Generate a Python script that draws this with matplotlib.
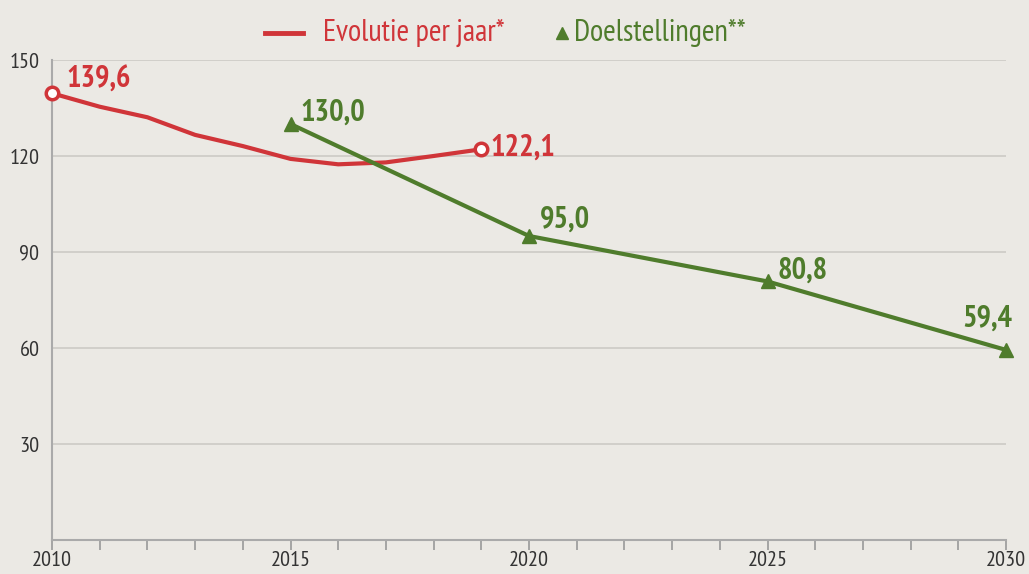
import numpy as np
import matplotlib as mpl
mpl.use("Agg")
import matplotlib.pyplot as plt
from matplotlib.lines import Line2D

plt.rcParams['font.family'] = ['PT Sans Narrow', 'DejaVu Sans']

#~~~~~~~~ Data ~~~~~~~~~~~~
years = [2010, 2011, 2012, 2013, 2014, 2015, 2016, 2017, 2018, 2019]
evolutie = [139.6, 135.4, 132.1, 126.6, 123.1, 119.1, 117.4, 118.0, 120.0, 122.1]
doel_years = [2015, 2020, 2025, 2030]
doel = [130.0, 95.0, 80.8, 59.4]
yticks = [30, 60, 90, 120, 150]
#~~~~~~~~~~~~~~~~~~~~~~~~~~~

red = '#d03539'
green = '#4f7c2c'
bg = '#ebe9e4'
W, H = 1029, 574

fig = plt.figure(figsize=(W/100, H/100), dpi=100, facecolor=bg)
ax = fig.add_axes([52/W, 34/H, (1006-52)/W, (540-60)/H])
ax.set_facecolor(bg)

ax.plot(years, evolutie, color=red, lw=3, zorder=3, clip_on=False)
ax.plot([years[0], years[-1]], [evolutie[0], evolutie[-1]], 'o', ms=9,
        mfc='white', mec=red, mew=2.5, zorder=4, clip_on=False)
ax.plot(doel_years, doel, color=green, lw=3, marker='^', ms=10,
        zorder=3, clip_on=False)

def fmt(v):
    return f"{v:.1f}".replace('.', ',')

def label(x, y, c, off, ha='left'):
    ax.annotate(fmt(y), (x, y), xytext=off, textcoords='offset pixels',
                color=c, fontsize=22, fontweight='bold', ha=ha, va='center')

label(years[0], evolutie[0], red, (14, 14))
label(years[-1], evolutie[-1], red, (9, 2))
offs = [(10, 11), (11, 16), (10, 11), (6, 31)]
has = ['left', 'left', 'left', 'right']
for x, y, o, h in zip(doel_years, doel, offs, has):
    label(x, y, green, o, h)

ax.set_xlim(2010, 2030)
ax.set_ylim(0, 150)
ax.set_yticks(yticks)
ax.set_xticks([2010, 2015, 2020, 2025, 2030])
ax.set_xticks(range(2010, 2031), minor=True)
ax.tick_params(axis='y', length=0, labelsize=16, colors='#333333', pad=9)
ax.tick_params(axis='x', which='both', length=7, width=1.2, color='#999999',
               labelsize=16, labelcolor='#333333', pad=1)
ax.grid(axis='y', color='#cccac5', lw=1.2)
for s in ['top', 'right']:
    ax.spines[s].set_visible(False)
for s in ['left', 'bottom']:
    ax.spines[s].set_color('#aaaaaa')
    ax.spines[s].set_linewidth(1.5)

# legend drawn by hand (figure pixel positions)
ly = 1 - 33/H
fig.add_artist(Line2D([265/W, 303/W], [ly, ly], color=red, lw=3.5))
fig.text(323/W, ly, 'Evolutie per jaar*', color=red, fontsize=22, va='center')
fig.add_artist(Line2D([562/W], [ly], color=green, lw=0, marker='^', ms=8.5))
fig.text(574/W, ly, 'Doelstellingen**', color=green, fontsize=22, va='center')

fig.savefig('out.png', dpi=100, facecolor=bg)
